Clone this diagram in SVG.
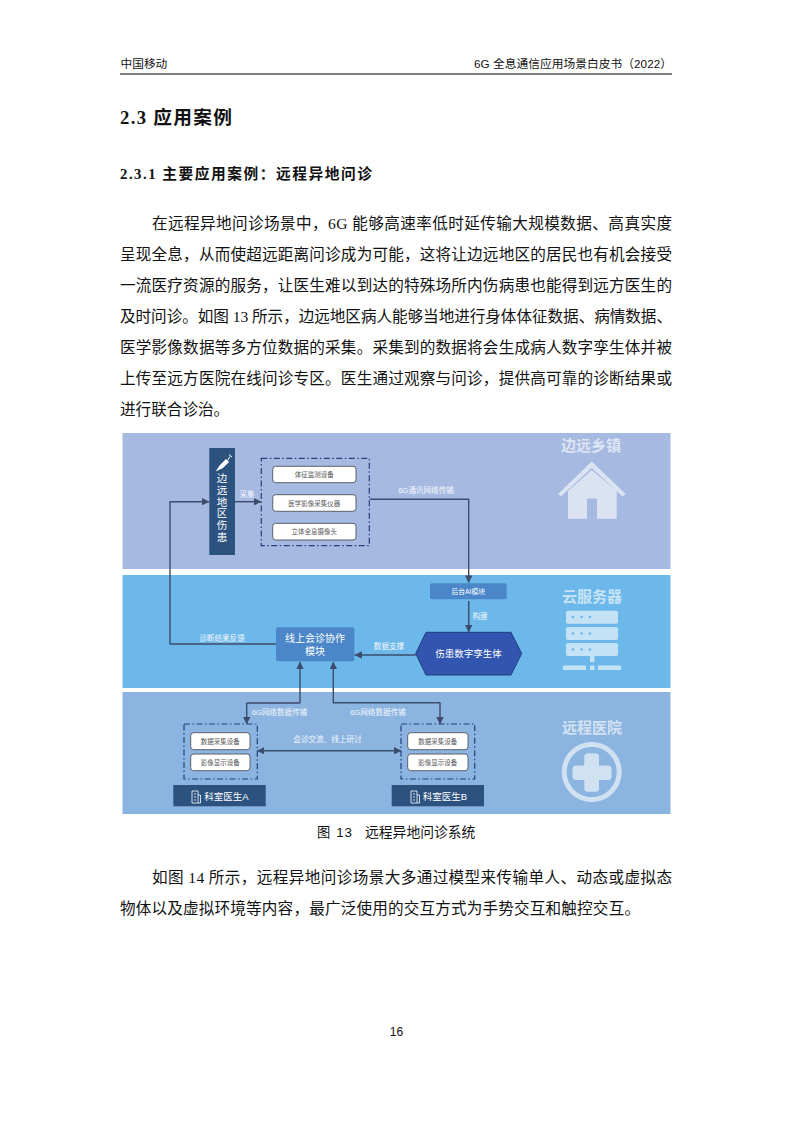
<svg xmlns="http://www.w3.org/2000/svg" width="793" height="1122" viewBox="0 0 793 1122">
<style>
text{font-family:"Liberation Serif","Noto Sans CJK SC",serif;fill:#111}
.s{font-family:"Liberation Sans","Noto Sans CJK SC",sans-serif}
.body{font-size:15.6px}
.w{fill:#fff;font-family:"Liberation Sans","Noto Sans CJK SC",sans-serif;text-anchor:middle}
.l{font-size:7.6px;fill:#f2f6fc}
.d{font-size:6.500px;fill:#555;font-family:"Liberation Sans","Noto Sans CJK SC",sans-serif;text-anchor:middle}
.dev{fill:#fff;stroke:#5a5f6a;stroke-width:1}
.dash{fill:none;stroke:#24417f;stroke-width:1.2;stroke-dasharray:6 2.5 1.5 2.5}
.dark{fill:#2c5280}
.c{fill:none;stroke:#3c4c6c;stroke-width:1.4;stroke-linejoin:round}
.t{fill:#fff;text-anchor:middle;font-family:"Liberation Sans","Noto Sans CJK SC",sans-serif;opacity:.62;font-size:15px;font-weight:700}
.i{fill:#fff;opacity:.6}
</style>
<defs>
<marker id="a" viewBox="0 0 10 10" refX="9.500" refY="5" markerWidth="7.500" markerHeight="7.500" markerUnits="userSpaceOnUse" orient="auto-start-reverse"><path d="M0 0L10 5L0 10z" fill="#3c4c6c"/></marker>
</defs>
<rect width="793" height="1122" fill="#fff"/>
<g id="page-head">
<text class="s" x="120.500" y="68" font-size="11.700">中国移动</text>
<text class="s" x="474" y="68" font-size="11.700" textLength="198" lengthAdjust="spacing">6G 全息通信应用场景白皮书（2022）</text>
<rect x="120" y="73.500" width="552" height="1" fill="#000"/>
</g>
<g id="page-text">
<text x="120" y="124" font-size="18.700" font-weight="700" textLength="112" lengthAdjust="spacing">2.3 应用案例</text>
<text x="120" y="179" font-size="14.700" font-weight="700" textLength="252" lengthAdjust="spacing">2.3.1 主要应用案例：远程异地问诊</text>
<text class="body" x="152" y="229" textLength="520" lengthAdjust="spacing">在远程异地问诊场景中，6G 能够高速率低时延传输大规模数据、高真实度</text>
<text class="body" x="120" y="260" textLength="552" lengthAdjust="spacing">呈现全息，从而使超远距离问诊成为可能，这将让边远地区的居民也有机会接受</text>
<text class="body" x="120" y="291" textLength="552" lengthAdjust="spacing">一流医疗资源的服务，让医生难以到达的特殊场所内伤病患也能得到远方医生的</text>
<text class="body" x="120" y="322" textLength="552" lengthAdjust="spacing">及时问诊。如图 13 所示，边远地区病人能够当地进行身体体征数据、病情数据、</text>
<text class="body" x="120" y="353" textLength="552" lengthAdjust="spacing">医学影像数据等多方位数据的采集。采集到的数据将会生成病人数字孪生体并被</text>
<text class="body" x="120" y="384" textLength="552" lengthAdjust="spacing">上传至远方医院在线问诊专区。医生通过观察与问诊，提供高可靠的诊断结果或</text>
<text class="body" x="120" y="415">进行联合诊治。</text>
<text class="s" x="317" y="837" font-size="13.300" textLength="35" lengthAdjust="spacing">图 13</text>
<text class="s" x="365" y="837" font-size="13.800">远程异地问诊系统</text>
<text class="body" x="152" y="883" textLength="520" lengthAdjust="spacing">如图 14 所示，远程异地问诊场景大多通过模型来传输单人、动态或虚拟态</text>
<text class="body" x="120" y="914" textLength="520" lengthAdjust="spacing">物体以及虚拟环境等内容，最广泛使用的交互方式为手势交互和触控交互。</text>
<text class="s" x="396.500" y="1036" font-size="12" text-anchor="middle">16</text>
</g>
<g id="bands">
<rect x="122.500" y="433" width="548" height="136" fill="#a6b9e0"/>
<rect x="122.500" y="575" width="548" height="113" fill="#6cb8ea"/>
<rect x="122.500" y="692" width="548" height="122" fill="#8bb4e0"/>
<text class="t" x="591" y="451">边远乡镇</text>
<text class="t" x="592" y="602">云服务器</text>
<text class="t" x="592" y="733">远程医院</text>
</g>
<g id="icon-house" class="i">
<path d="M558 494L591.700 461.500L625.700 494L622.500 496.500L591.700 468L561 496.500z"/>
<path d="M568 491L591.700 470L616.700 491V518.700H597V498.500H587V518.700H568z"/>
</g>
<g id="icon-server">
<g class="i"><rect x="566" y="610.700" width="52" height="13" rx="2"/><rect x="566" y="627" width="52" height="13" rx="2"/><rect x="566" y="643" width="52" height="13" rx="2"/>
<rect x="590" y="656" width="4.500" height="6"/><rect x="563" y="665.500" width="23" height="4.500"/><rect x="590" y="665.500" width="4.500" height="4.500"/><rect x="598" y="665.500" width="23" height="4.500"/></g>
<g fill="#6cb8ea"><circle cx="573" cy="617" r="1.300"/><circle cx="581.500" cy="617" r="1.300"/><circle cx="590" cy="617" r="1.300"/><circle cx="573" cy="633.500" r="1.300"/><circle cx="581.500" cy="633.500" r="1.300"/><circle cx="590" cy="633.500" r="1.300"/><circle cx="573" cy="649.500" r="1.300"/><circle cx="581.500" cy="649.500" r="1.300"/><circle cx="590" cy="649.500" r="1.300"/></g>
</g>
<g id="icon-hospital" class="i">
<path fill-rule="evenodd" d="M591.700 742a30 30 0 1 0 .01 0zM591.700 747a25 25 0 1 1-.01 0z"/>
<rect x="584.300" y="753.300" width="14.700" height="38.400" rx="3.500"/><rect x="572.500" y="765.500" width="39" height="14.500" rx="3.500"/>
</g>
<g id="connectors">
<path class="c" marker-end="url(#a)" d="M235 501.700H261"/>
<path class="c" marker-end="url(#a)" d="M276 644H170V501.700H209"/>
<path class="c" marker-end="url(#a)" d="M369.700 499.300H468.700V582.500"/>
<path class="c" marker-end="url(#a)" d="M468.700 601V632"/>
<path class="c" marker-end="url(#a)" d="M415.700 655H354.800"/>
<path class="c" marker-end="url(#a)" d="M300 703V662"/>
<path class="c" d="M300 703H246.700"/>
<path class="c" marker-end="url(#a)" d="M246.700 703V724"/>
<path class="c" style="marker-start:url(#a);marker-end:url(#a)" d="M333.300 662V702.700H440V724"/>
<path class="c" style="marker-start:url(#a);marker-end:url(#a)" d="M257.300 750.700H401"/>
</g>
<g id="patient">
<rect class="dark" x="209.300" y="448" width="25.700" height="107"/>
<path d="M215.500 471.500L220 465L226 459L229 462L223 468z" fill="#fff"/>
<path d="M227.500 460.500L230 456.500M229 454.500L232 457" fill="none" stroke="#fff" stroke-width="1"/>
<g font-size="10.500"><text class="w" x="222" y="482">边</text><text class="w" x="222" y="494">远</text><text class="w" x="222" y="505.500">地</text><text class="w" x="222" y="517">区</text><text class="w" x="222" y="529">伤</text><text class="w" x="222" y="540.500">患</text></g>
</g>
<g id="collect-group">
<rect class="dash" x="261.300" y="458.300" width="108" height="87.400"/>
<rect class="dev" x="272.700" y="466.300" width="83.300" height="16.400" rx="3"/><text class="d" x="314.300" y="477">体征监测设备</text>
<rect class="dev" x="272.700" y="494.700" width="83.300" height="16.600" rx="3"/><text class="d" x="314.300" y="505.500">医学影像采集仪器</text>
<rect class="dev" x="272.700" y="523.300" width="83.300" height="16.700" rx="3"/><text class="d" x="314.300" y="534">立体全息摄像头</text>
</g>
<g id="ai-module"><rect x="430" y="583.300" width="76.700" height="16" rx="2" fill="#4a86c8"/><text class="w" x="468.300" y="594" font-size="6.800">后台AI模块</text></g>
<g id="twin"><path d="M415.700 653.500L426 632.300H511L521.700 653.500L511 675H426z" fill="#3256b0" stroke="#1f3d80" stroke-width="1"/><text class="w" x="468.500" y="657" font-size="9.500">伤患数字孪生体</text></g>
<g id="meeting"><rect x="276" y="627.300" width="78.300" height="34" rx="2" fill="#4a86c8"/><text class="w" x="315" y="642" font-size="10">线上会诊协作</text><text class="w" x="315" y="655" font-size="10">模块</text></g>
<g id="group-a">
<rect class="dash" x="184" y="724" width="73.300" height="55"/>
<rect class="dev" x="190.700" y="732.700" width="59.300" height="17" rx="3"/><text class="d" x="220.300" y="744">数据采集设备</text>
<rect class="dev" x="190.700" y="754" width="59.300" height="16.700" rx="3"/><text class="d" x="220.300" y="765">影像显示设备</text>
</g>
<g id="group-b">
<rect class="dash" x="401" y="724" width="73.700" height="55"/>
<rect class="dev" x="407.700" y="732.700" width="60.300" height="17" rx="3"/><text class="d" x="437.800" y="744">数据采集设备</text>
<rect class="dev" x="407.700" y="754" width="60.300" height="16.700" rx="3"/><text class="d" x="437.800" y="765">影像显示设备</text>
</g>
<g id="doctor-a"><rect class="dark" x="173.300" y="785" width="92.400" height="21.300"/>
<path d="M192 791H198V803H192zM198 795H200.500V803H198M194 794H196M194 797H196M194 800H196" fill="none" stroke="#fff" stroke-width=".8"/>
<text class="w" x="226.500" y="799.500" font-size="9.500">科室医生A</text></g>
<g id="doctor-b"><rect class="dark" x="391.700" y="785" width="92.300" height="21.300"/>
<path d="M411 791H417V803H411zM417 795H419.500V803H417M413 794H415M413 797H415M413 800H415" fill="none" stroke="#fff" stroke-width=".8"/>
<text class="w" x="445" y="799.500" font-size="9.500">科室医生B</text></g>
<g id="connector-labels">
<text class="w l" x="247" y="497">采集</text>
<text class="w l" x="426" y="493">6G通讯网络传输</text>
<text class="w l" x="222" y="640.500">诊断结果反馈</text>
<text class="w l" x="389" y="648.500">数据支撑</text>
<text class="w l" x="480" y="619">构建</text>
<text class="w l" x="279.500" y="714.500">6G网络数据传输</text>
<text class="w l" x="378" y="714.500">6G网络数据传输</text>
<text class="w l" x="327.500" y="742">会诊交流、线上研讨</text>
</g>
</svg>
